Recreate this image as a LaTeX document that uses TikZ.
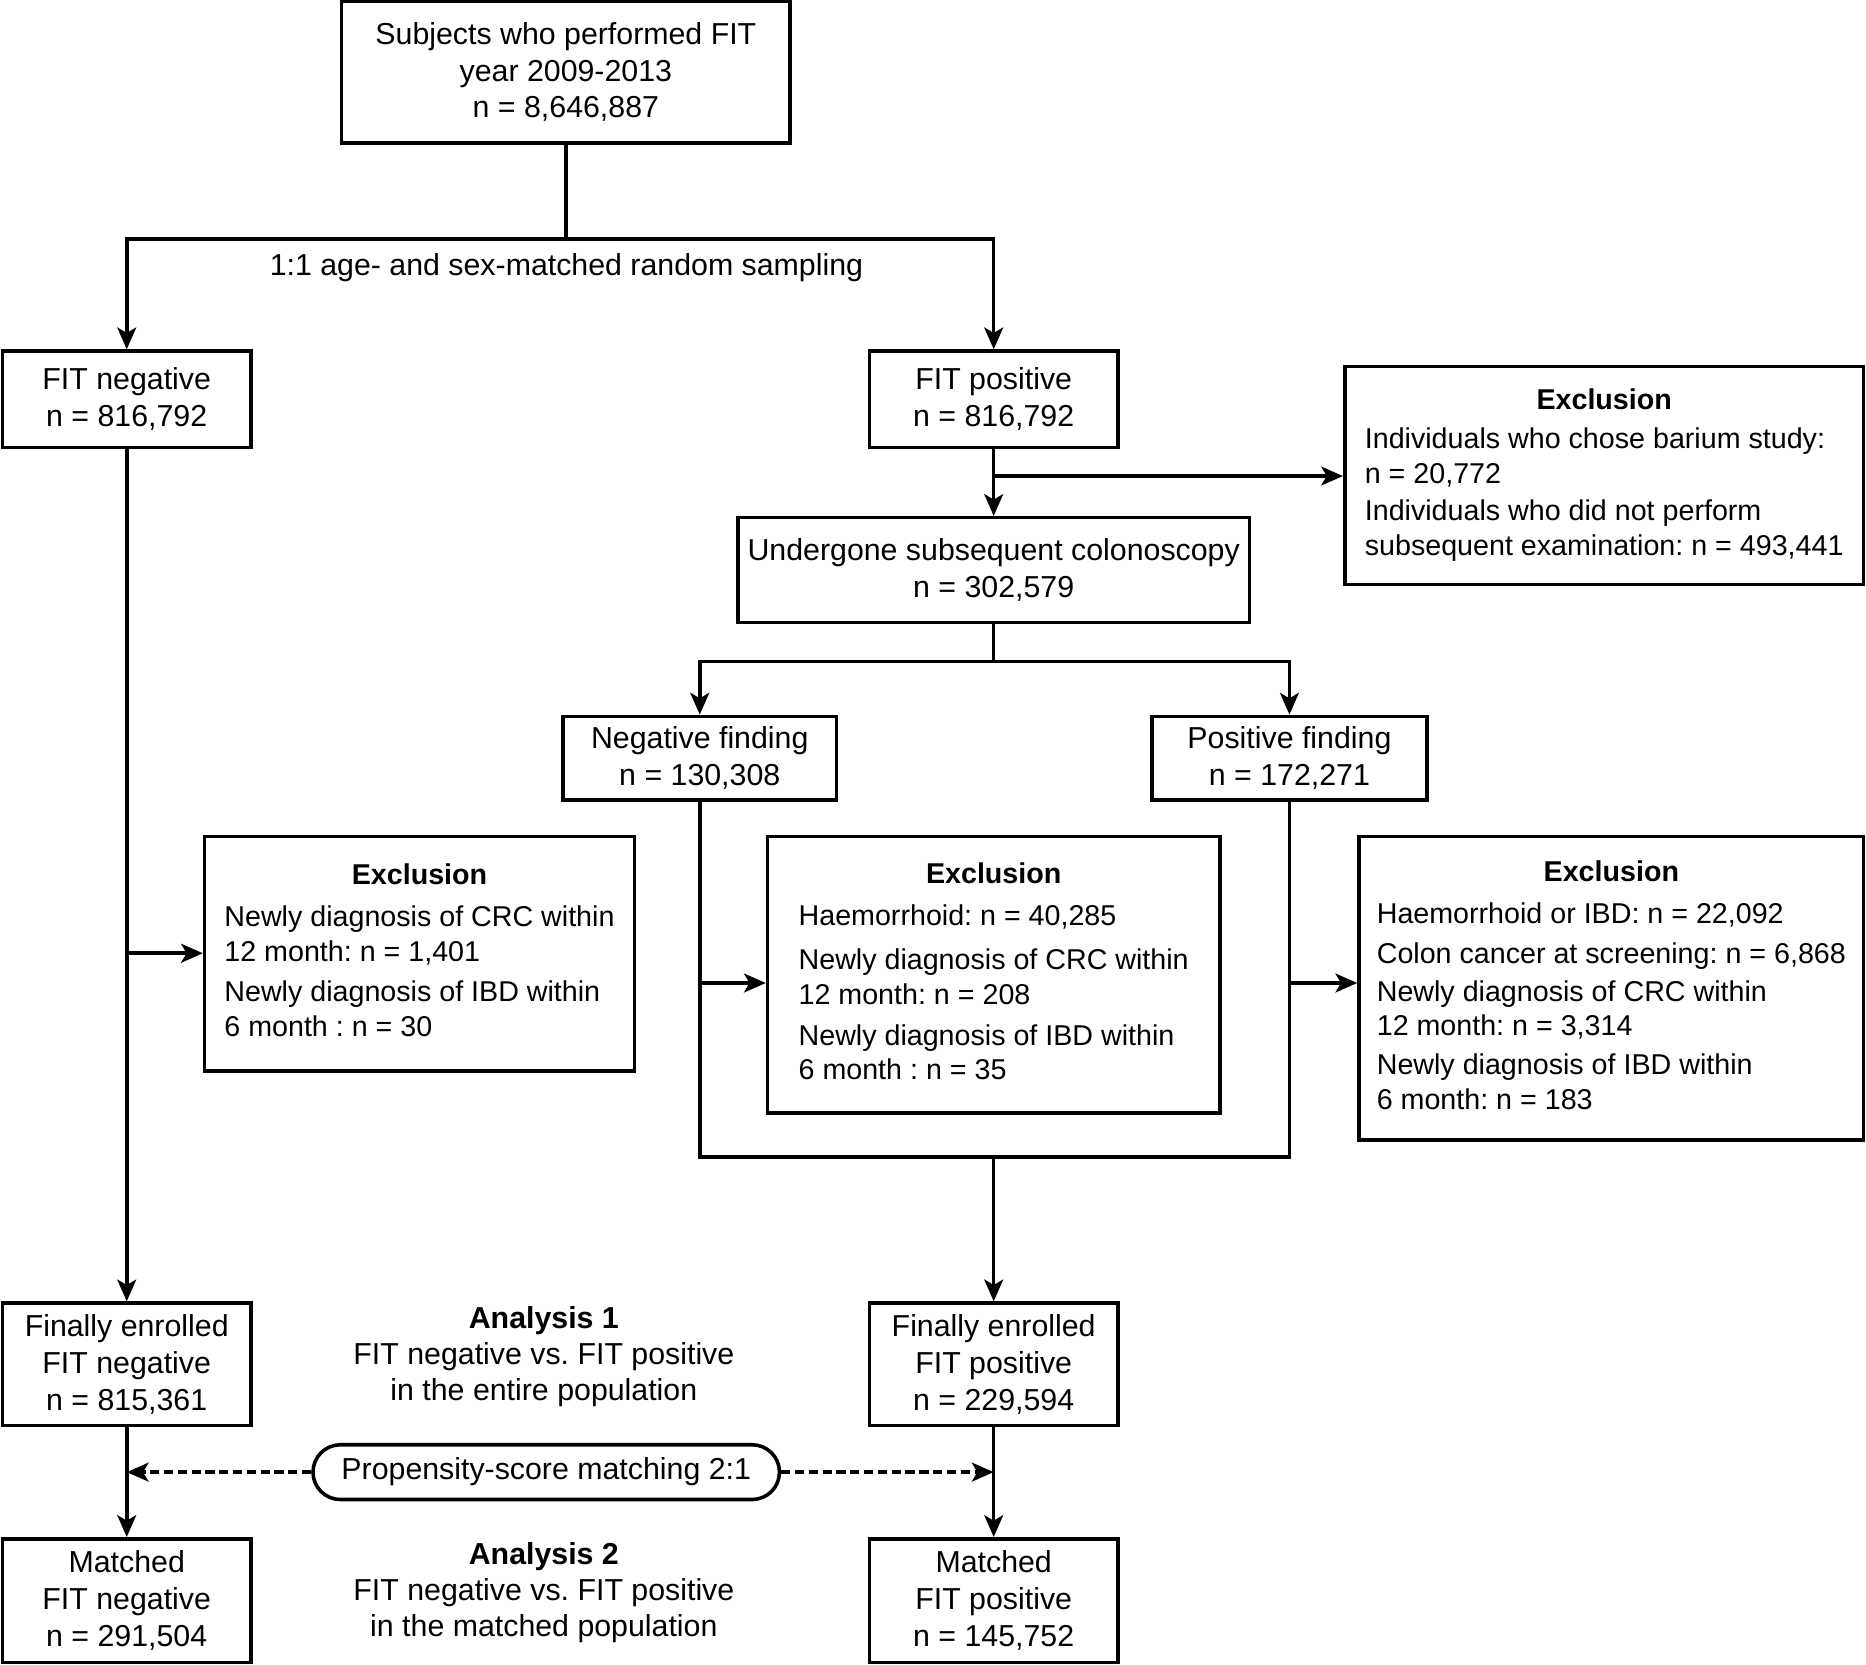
\documentclass[tikz,border=0pt]{standalone}
\usepackage{fontspec}
\setmainfont{Liberation Sans}
\usetikzlibrary{arrows.meta}
\frenchspacing

\begin{document}
\begin{tikzpicture}[
    line width=0.85pt,
    flowbox/.style={rectangle, draw, inner sep=0pt, align=center, font=\fontsize{7.25}{8.8}\selectfont},
    exclbox/.style={rectangle, draw, inner sep=0pt, font=\fontsize{6.85}{8.3}\selectfont},
    pillbox/.style={rectangle, draw, rounded corners=2.3mm, inner sep=0pt, minimum width=3.92cm, minimum height=0.46cm, font=\fontsize{7.25}{8.8}\selectfont},
    notetext/.style={align=center, font=\fontsize{7.25}{8.6}\selectfont},
    flowarrow/.style={-{Stealth[length=5.2pt, width=4.5pt, inset=1.3pt]}},
    matcharrow/.style={flowarrow, dash pattern=on 2.2pt off 1.1pt}
]
    \useasboundingbox (0,0) rectangle (15.68,-13.99);

    % Define nodes for the screening and sampling steps
    \node[flowbox, minimum width=3.77cm, minimum height=1.19cm] (subjects) at (4.755,-0.605) {Subjects who performed FIT\\ year 2009-2013\\ n = 8,646,887};
    \node[notetext] (sampling) at (4.76,-2.25) {1:1 age- and sex-matched random sampling};
    \node[flowbox, minimum width=2.09cm, minimum height=0.81cm] (fitneg) at (1.065,-3.355) {FIT negative\\ n = 816,792};
    \node[flowbox, minimum width=2.09cm, minimum height=0.81cm] (fitpos) at (8.35,-3.355) {FIT positive\\ n = 816,792};
    \node[exclbox, minimum width=4.36cm, minimum height=1.83cm] (exclbarium) at (13.48,-3.995) {\begin{tabular}{@{}l@{}}
        \multicolumn{1}{@{}c@{}}{\textbf{Exclusion}}\\[1.2pt]
        Individuals who chose barium study:\\
        n = 20,772\\[0.6pt]
        Individuals who did not perform\\
        subsequent examination: n = 493,441
    \end{tabular}};
    \node[flowbox, minimum width=4.30cm, minimum height=0.88cm] (colono) at (8.35,-4.79) {Undergone subsequent colonoscopy\\ n = 302,579};
    \node[flowbox, minimum width=2.30cm, minimum height=0.70cm] (negfind) at (5.88,-6.37) {Negative finding\\ n = 130,308};
    \node[flowbox, minimum width=2.31cm, minimum height=0.70cm] (posfind) at (10.835,-6.37) {Positive finding\\ n = 172,271};

    % Exclusion boxes in the middle row
    \node[exclbox, minimum width=3.61cm, minimum height=1.97cm] (exclneg) at (3.525,-8.015) {\begin{tabular}{@{}l@{}}
        \multicolumn{1}{@{}c@{}}{\textbf{Exclusion}}\\[1.7pt]
        Newly diagnosis of CRC within\\
        12 month: n = 1,401\\[1.4pt]
        Newly diagnosis of IBD within\\
        6 month : n = 30
    \end{tabular}};
    \node[exclbox, minimum width=3.80cm, minimum height=2.32cm] (exclmid) at (8.35,-8.19) {\begin{tabular}{@{}l@{}}
        \multicolumn{1}{@{}c@{}}{\textbf{Exclusion}}\\[1.7pt]
        Haemorrhoid: n = 40,285\\[2.4pt]
        Newly diagnosis of CRC within\\
        12 month: n = 208\\[1.4pt]
        Newly diagnosis of IBD within\\
        6 month : n = 35
    \end{tabular}};
    \node[exclbox, minimum width=4.24cm, minimum height=2.55cm] (exclpos) at (13.54,-8.305) {\begin{tabular}{@{}l@{}}
        \multicolumn{1}{@{}c@{}}{\textbf{Exclusion}}\\[1.7pt]
        Haemorrhoid or IBD: n = 22,092\\[1.4pt]
        Colon cancer at screening: n = 6,868\\[0.6pt]
        Newly diagnosis of CRC within\\
        12 month: n = 3,314\\[0.9pt]
        Newly diagnosis of IBD within\\
        6 month: n = 183
    \end{tabular}};

    % Final cohorts and analyses
    \node[flowbox, minimum width=2.09cm, minimum height=1.03cm] (enrneg) at (1.065,-11.465) {Finally enrolled\\ FIT negative\\ n = 815,361};
    \node[flowbox, minimum width=2.09cm, minimum height=1.03cm] (enrpos) at (8.35,-11.465) {Finally enrolled\\ FIT positive\\ n = 229,594};
    \node[notetext] (analysis1) at (4.57,-11.40) {\textbf{Analysis 1}\\ FIT negative vs. FIT positive\\ in the entire population};
    \node[pillbox] (psm) at (4.59,-12.37) {Propensity-score matching 2:1};
    \node[flowbox, minimum width=2.09cm, minimum height=1.04cm] (matneg) at (1.065,-13.45) {Matched\\ FIT negative\\ n = 291,504};
    \node[flowbox, minimum width=2.09cm, minimum height=1.04cm] (matpos) at (8.35,-13.45) {Matched\\ FIT positive\\ n = 145,752};
    \node[notetext] (analysis2) at (4.57,-13.38) {\textbf{Analysis 2}\\ FIT negative vs. FIT positive\\ in the matched population};

    % Branch points
    \coordinate (split1) at (4.755,-2.01);
    \coordinate (brbarium) at (8.35,-4.00);
    \coordinate (split2) at (8.35,-5.56);
    \coordinate (brneg) at (1.065,-8.01);
    \coordinate (brmid) at (5.88,-8.26);
    \coordinate (brpos) at (10.835,-8.26);
    \coordinate (join) at (8.35,-9.72);

    % Connectors
    \draw (subjects) -- (split1);
    \draw[flowarrow] (split1) -| (fitneg);
    \draw[flowarrow] (split1) -| (fitpos);
    \draw[flowarrow] (fitpos) -- (colono);
    \draw[flowarrow] (brbarium) -- (brbarium -| exclbarium.west);
    \draw (colono) -- (split2);
    \draw[flowarrow] (split2) -| (negfind);
    \draw[flowarrow] (split2) -| (posfind);
    \draw[flowarrow] (fitneg) -- (enrneg);
    \draw[flowarrow] (brneg) -- (brneg -| exclneg.west);
    \draw (negfind.south) |- (join) -| (posfind.south);
    \draw[flowarrow] (brmid) -- (brmid -| exclmid.west);
    \draw[flowarrow] (brpos) -- (brpos -| exclpos.west);
    \draw[flowarrow] (join) -- (enrpos);
    \draw[flowarrow] (enrneg) -- (matneg);
    \draw[flowarrow] (enrpos) -- (matpos);
    \draw[matcharrow] (psm.west) -- (psm.west -| enrneg);
    \draw[matcharrow] (psm.east) -- (psm.east -| enrpos);

\end{tikzpicture}
\end{document}
